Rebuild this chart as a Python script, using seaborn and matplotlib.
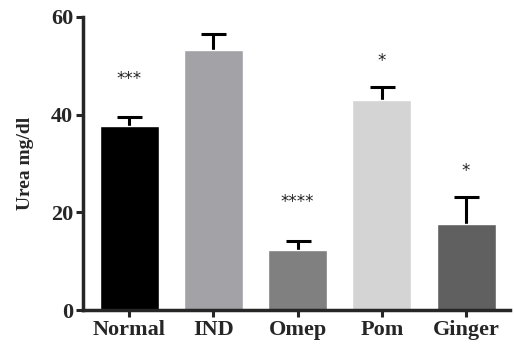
import matplotlib
matplotlib.use("Agg")
import matplotlib.pyplot as plt
import seaborn as sns
import pandas as pd

groups = ["Normal", "IND", "Omep", "Pom", "Ginger"]
means = [37.7, 53.3, 12.4, 43.0, 17.6]
errors = [1.9, 3.1, 1.8, 2.6, 5.5]
stars = ["***", "", "****", "*", "*"]
star_y = [47.3, 0, 22.2, 51.0, 28.5]
colors = ["#000000", "#a2a2a7", "#808080", "#d4d4d4", "#606060"]

sns.set_style("ticks")
plt.rcParams['font.family'] = ['Liberation Serif', 'DejaVu Serif']

df = pd.DataFrame({"group": groups, "urea": means})

fig = plt.figure(figsize=(5.14, 3.45), dpi=100)
ax = fig.add_axes([0.161, 0.101, 0.831, 0.85])

sns.barplot(data=df, x="group", y="urea", hue="group", palette=colors,
            width=0.7, legend=False, ax=ax, saturation=1, errorbar=None)
for p in ax.patches:
    p.set_zorder(3)

eb = ax.errorbar(range(len(groups)), means, yerr=[[0]*len(errors), errors],
                 fmt="none", ecolor="black", elinewidth=2.2, capsize=9, capthick=2.2, zorder=1)
caps = eb.lines[1]
if len(caps) == 2:
    caps[0].set_visible(False)

for i, (s, y) in enumerate(zip(stars, star_y)):
    if s:
        ax.text(i, y, s, ha="center", va="center", fontsize=12, family="DejaVu Sans", color="#222222")

ax.set_ylim(0, 60)
ax.set_xlim(-0.55, 4.52)
ax.set_yticks([0, 20, 40, 60])
ax.set_xlabel("")
ax.set_ylabel("Urea mg/dl", fontsize=14, fontweight="bold", labelpad=12)
for lab in ax.get_xticklabels() + ax.get_yticklabels():
    lab.set_fontweight("bold")
    lab.set_fontsize(16)
ax.tick_params(axis="both", width=2.2, length=5, pad=2)
for side in ["left", "bottom"]:
    ax.spines[side].set_linewidth(2.5)
    ax.spines[side].set_zorder(4)
sns.despine(ax=ax)

fig.savefig("out.png", dpi=100)
